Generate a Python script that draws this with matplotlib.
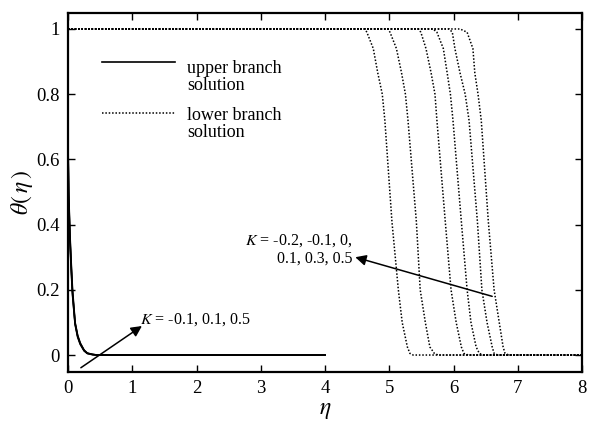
import matplotlib
matplotlib.use("Agg")
import matplotlib.pyplot as plt

plt.rcParams['font.family'] = ['Liberation Serif', 'DejaVu Serif']
plt.rcParams['mathtext.fontset'] = 'stix'

# Upper branch solutions (K = -0.1, 0.1, 0.5) - nearly coincident
eta_upper = [0, 0.01, 0.03, 0.05, 0.07, 0.11, 0.15, 0.19, 0.25, 0.30, 0.38, 0.45, 0.6, 4.0]
theta_upper_k1 = [0.65, 0.50, 0.37, 0.28, 0.20, 0.10, 0.060, 0.037, 0.015, 0.006, 0.002, 0, 0, 0]
theta_upper_k2 = [0.64, 0.49, 0.36, 0.27, 0.19, 0.097, 0.058, 0.035, 0.014, 0.005, 0.002, 0, 0, 0]
theta_upper_k3 = [0.62, 0.48, 0.35, 0.26, 0.185, 0.094, 0.055, 0.033, 0.013, 0.005, 0.001, 0, 0, 0]

# Lower branch solutions (K = -0.2, -0.1, 0, 0.1, 0.3, 0.5)
theta_lower = [1.0, 1.0, 0.99, 0.94, 0.865, 0.80, 0.72, 0.41, 0.2, 0.1, 0.025, 0.005, 0.0, 0.0]
eta_lower_k1 = [0, 4.62, 4.65, 4.75, 4.82, 4.89, 4.93, 5.04, 5.14, 5.20, 5.28, 5.32, 5.37, 8]
eta_lower_k2 = [0, 4.98, 5.01, 5.11, 5.19, 5.25, 5.29, 5.42, 5.48, 5.56, 5.63, 5.70, 5.76, 8]
eta_lower_k3 = [0, 5.45, 5.49, 5.57, 5.65, 5.71, 5.74, 5.87, 5.96, 6.04, 6.12, 6.16, 6.23, 8]
eta_lower_k4 = [0, 5.68, 5.74, 5.84, 5.90, 5.95, 5.99, 6.12, 6.21, 6.27, 6.35, 6.40, 6.46, 8]
eta_lower_k5 = [0, 5.93, 5.98, 6.02, 6.10, 6.18, 6.24, 6.37, 6.44, 6.52, 6.60, 6.63, 6.69, 8]
eta_lower_k6 = [0, 6.10, 6.21, 6.30, 6.33, 6.38, 6.43, 6.54, 6.63, 6.71, 6.77, 6.80, 6.86, 8]

xticks = [0, 1, 2, 3, 4, 5, 6, 7, 8]
yticks = [0, 0.2, 0.4, 0.6, 0.8, 1]
ytick_labels = ['0', '0.2', '0.4', '0.6', '0.8', '1']

fig = plt.figure(figsize=(5.93, 4.29), dpi=100)
ax = fig.add_axes([0.1147, 0.1329, 0.867, 0.8368])

dot = (0, (1, 1.2))
for th in (theta_upper_k1, theta_upper_k2, theta_upper_k3):
    ax.plot(eta_upper, th, color='black', lw=1.2, solid_joinstyle='round')
for et in (eta_lower_k1, eta_lower_k2, eta_lower_k3, eta_lower_k4, eta_lower_k5, eta_lower_k6):
    ax.plot(et, theta_lower, color='black', lw=1.1, linestyle=dot)

# legend (drawn manually so the handle aligns with the first text line)
ax.plot([0.066, 0.208], [0.8635, 0.8635], transform=ax.transAxes, color='black', lw=1.2)
ax.text(0.2315, 0.8217, 'upper branch\nsolution', transform=ax.transAxes,
        fontsize=13, ha='left', va='center', linespacing=1.05)
ax.plot([0.066, 0.208], [0.7214, 0.7214], transform=ax.transAxes, color='black',
        lw=1.1, linestyle=dot)
ax.text(0.2315, 0.6908, 'lower branch\nsolution', transform=ax.transAxes,
        fontsize=13, ha='left', va='center', linespacing=1.05)

ax.set_xlim(0, 8)
ax.set_ylim(-0.052, 1.049)
ax.set_xticks(xticks)
ax.set_yticks(yticks)
ax.set_yticklabels(ytick_labels)
ax.tick_params(direction='in', top=True, right=True, length=5, width=1,
               labelsize=13.5, pad=6)
for s in ax.spines.values():
    s.set_linewidth(1.6)

ax.set_xlabel(r'$\eta$', fontsize=17, labelpad=2)
ax.set_ylabel(r'$\theta(\,\eta\,)$', fontsize=17, labelpad=1)

ap = dict(arrowstyle='-|>', lw=1.1, color='black', mutation_scale=16, shrinkA=0, shrinkB=0)
ax.annotate('', xy=(1.15, 0.089), xytext=(0.2, -0.039), arrowprops=ap)
ax.text(1.12, 0.11, r'$K$ = -0.1, 0.1, 0.5', fontsize=11.5, ha='left', va='center')
ax.annotate('', xy=(4.47, 0.30), xytext=(6.6, 0.18), arrowprops=ap)
ax.text(4.42, 0.325, '$K$ = -0.2, -0.1, 0,\n0.1, 0.3, 0.5', fontsize=11.5,
        ha='right', va='center', multialignment='right', linespacing=1.15)

fig.savefig('out.png', dpi=100)
